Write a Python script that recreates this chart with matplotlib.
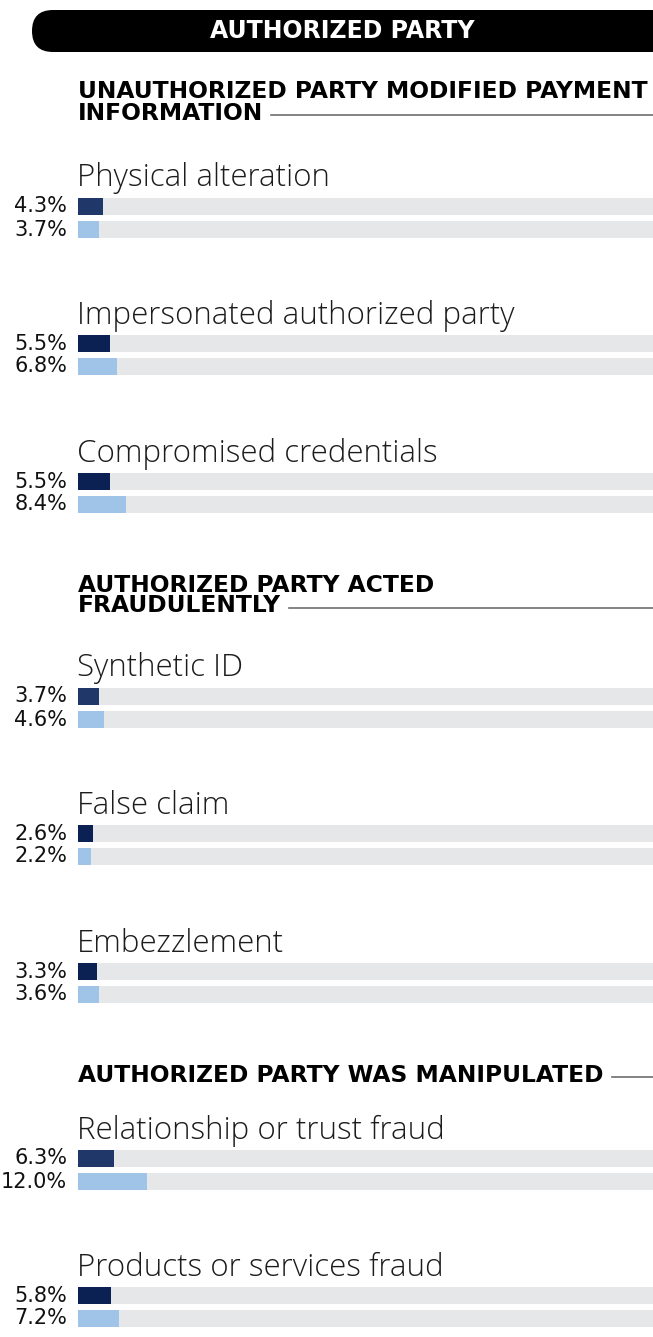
import matplotlib
matplotlib.use("Agg")
import matplotlib.pyplot as plt
from matplotlib.patches import FancyBboxPatch

# Share of cases by fraud method, two series per method
categories = ["Physical alteration", "Impersonated authorized party",
              "Compromised credentials", "Synthetic ID", "False claim",
              "Embezzlement", "Relationship or trust fraud",
              "Products or services fraud"]
dark_values = [4.3, 5.5, 5.5, 3.7, 2.6, 3.3, 6.3, 5.8]
light_values = [3.7, 6.8, 8.4, 4.6, 2.2, 3.6, 12.0, 7.2]

panel_title = "AUTHORIZED PARTY"
section_titles = [["UNAUTHORIZED PARTY MODIFIED PAYMENT", "INFORMATION"],
                  ["AUTHORIZED PARTY ACTED", "FRAUDULENTLY"],
                  ["AUTHORIZED PARTY WAS MANIPULATED"]]

# layout (pixel rows)
row_y = [206.5, 343.5, 481.5, 696.5, 833.5, 971.5, 1158.5, 1295.5]
section_y = [92, 585, 1075]
bar_h = 17.5
bar_gap = 23

# first row of each section uses the softer navy
dark_colors = ["#1f3869", "#0b2053", "#0b2053", "#1f3869", "#0b2053",
               "#0b2053", "#1f3869", "#0b2053"]
LIGHT = "#a0c3e8"
TRACK = "#e6e7e9"

W, H = 653, 1337
fig = plt.figure(figsize=(W / 100, H / 100), dpi=100)

# overlay in pixel units for text, rules and the title pill
ov = fig.add_axes([0, 0, 1, 1])
ov.set_xlim(0, W)
ov.set_ylim(H, 0)
ov.axis("off")

# bars: x runs 0..100 percent over the track width
ax = fig.add_axes([78 / W, 0, (W - 78) / W, 1])
ax.set_xlim(0, 100)
ax.set_ylim(H, 0)
ax.axis("off")

light_y = [y + bar_gap for y in row_y]
ax.barh(row_y, [100] * len(row_y), height=bar_h, color=TRACK)
ax.barh(light_y, [100] * len(row_y), height=bar_h, color=TRACK)
ax.barh(row_y, dark_values, height=bar_h, color=dark_colors)
ax.barh(light_y, light_values, height=bar_h, color=LIGHT)

label_font = dict(family=["Open Sans", "DejaVu Sans"], fontweight="light",
                  fontsize=22.5, color="#1c1c1c")
pct_font = dict(family=["DejaVu Sans"], fontsize=15, color="#111111")
head_font = dict(family=["DejaVu Sans"], fontweight="bold",
                 fontsize=16.8, color="black")

for name, y, dv, lv in zip(categories, row_y, dark_values, light_values):
    ov.text(77, y - 28, name, ha="left", va="center", **label_font)
    ov.text(67, y, f"{dv:.1f}%", ha="right", va="center", **pct_font)
    ov.text(67, y + bar_gap, f"{lv:.1f}%", ha="right", va="center", **pct_font)

# title pill
pill = FancyBboxPatch((32, 10), 640, 42,
                      boxstyle="round,pad=0,rounding_size=21",
                      facecolor="black", edgecolor="none", clip_on=False)
ov.add_patch(pill)
ov.text(342, 31, panel_title, ha="center", va="center",
        color="white", family=["DejaVu Sans"],
        fontweight="bold", fontsize=17)

# section headings with a rule after the last line
last_lines = []
for lines, y in zip(section_titles, section_y):
    for i, line in enumerate(lines):
        t = ov.text(78, y + 21 * i, line, ha="left", va="center", **head_font)
    last_lines.append((t, y + 21 * (len(lines) - 1)))

fig.canvas.draw()
inv = ov.transData.inverted()
for t, y in last_lines:
    x_end = inv.transform(t.get_window_extent().get_points())[1, 0]
    ov.plot([x_end + 8, W], [y + 2, y + 2], color="#6e6e6e", lw=1.2)

fig.savefig("out.png", dpi=100)
